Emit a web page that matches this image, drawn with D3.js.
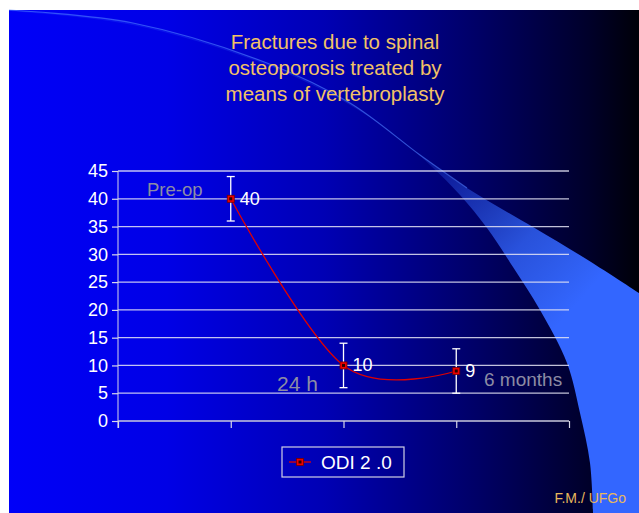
<!DOCTYPE html>
<html>
<head>
<meta charset="utf-8">
<script src="https://cdn.jsdelivr.net/npm/d3@7"></script>
<style>
  body { margin: 0; background: #fff; }
  svg { display: block; font-family: "Liberation Sans", Arial, sans-serif; }
</style>
</head>
<body>
<div id="chart"></div>
<script>
var w = 639,
    h = 513;

// data
var categories = ['Pre-op', '24 h', '6 months'];
var odiValues = [40, 10, 9];
var errorValues = [4, 4, 4];
var yTicks = [0, 5, 10, 15, 20, 25, 30, 35, 40, 45];
var seriesName = 'ODI 2 .0';
var titleLines = ['Fractures due to spinal', 'osteoporosis treated by', 'means of vertebroplasty'];

var svg = d3.select('#chart').append('svg').attr('width', w).attr('height', h);
var defs = svg.append('defs');

var bg = defs.append('linearGradient').attr('id', 'bg')
  .attr('x1', '0').attr('x2', '1').attr('y1', '0').attr('y2', '0');
bg.append('stop').attr('offset', '0').attr('stop-color', '#0000f8');
bg.append('stop').attr('offset', '0.25').attr('stop-color', '#0000e6');
bg.append('stop').attr('offset', '0.5').attr('stop-color', '#0000b4');
bg.append('stop').attr('offset', '0.75').attr('stop-color', '#000064');
bg.append('stop').attr('offset', '0.92').attr('stop-color', '#00002a');
bg.append('stop').attr('offset', '1').attr('stop-color', '#000008');

var sw = defs.append('linearGradient').attr('id', 'sw')
  .attr('gradientUnits', 'userSpaceOnUse')
  .attr('x1', 430).attr('y1', 165).attr('x2', 580).attr('y2', 300);
sw.append('stop').attr('offset', '0').attr('stop-color', '#3366ff').attr('stop-opacity', 0.2);
sw.append('stop').attr('offset', '0.6').attr('stop-color', '#3366ff').attr('stop-opacity', 0.8);
sw.append('stop').attr('offset', '1').attr('stop-color', '#3366ff').attr('stop-opacity', 1);

svg.append('rect').attr('x', 9).attr('y', 10).attr('width', w - 9).attr('height', h - 10)
  .attr('fill', 'url(#bg)');

// decorative swoosh
var curve = d3.line().curve(d3.curveCatmullRom);
var outer = [[9, 10], [133, 23], [267, 63], [350, 103], [420, 155], [467, 188], [533, 227], [583, 257], [639, 293]];
var inner = [[593, 513], [590, 463], [580, 413], [567, 363], [540, 310], [513, 267], [487, 228], [460, 195], [430, 165], [400, 139], [350, 105], [267, 65], [133, 25], [9, 11]];
svg.append('path')
  .attr('d', curve(outer) + 'L639,513L' + curve(inner).slice(1) + 'Z')
  .attr('fill', 'url(#sw)');
svg.append('path')
  .attr('d', curve(outer.slice(0, 6)))
  .attr('fill', 'none').attr('stroke', '#5080ff').attr('stroke-opacity', 0.6).attr('stroke-width', 1.2);

// title
svg.append('g').selectAll('text').data(titleLines).enter().append('text')
  .attr('x', 335).attr('y', function (d, i) { return 49 + i * 26; })
  .attr('text-anchor', 'middle').attr('font-size', 20.5).attr('fill', '#f2c266')
  .text(function (d) { return d; });

var x = d3.scaleLinear().domain([0, categories.length + 1]).range([118, 569]);
var y = d3.scaleLinear().domain([0, 45]).range([421, 171]);

// gridlines
svg.append('g').selectAll('line').data(yTicks.slice(1)).enter().append('line')
  .attr('x1', 118).attr('x2', 569)
  .attr('y1', function (d) { return y(d); }).attr('y2', function (d) { return y(d); })
  .attr('stroke', '#e4e4f4').attr('stroke-opacity', 0.85).attr('stroke-width', 1.3);

// y axis
var yAxis = svg.append('g').attr('transform', 'translate(118,0)')
  .call(d3.axisLeft(y).tickValues(yTicks).tickSize(6).tickPadding(4));
yAxis.select('.domain').attr('d', 'M0,' + y(45) + 'V' + (y(0) + 7)).attr('stroke', '#d8d8e8');
yAxis.selectAll('.tick line').attr('stroke', '#d8d8e8').attr('stroke-width', 1.2);
yAxis.selectAll('.tick text').attr('fill', '#fff').attr('font-size', 18)
  .attr('font-family', '"Liberation Sans", Arial, sans-serif');

// x axis
var xAxis = svg.append('g').attr('transform', 'translate(0,' + y(0) + ')')
  .call(d3.axisBottom(x).tickValues(d3.range(0, categories.length + 2)).tickSize(7).tickFormat(''));
xAxis.select('.domain').attr('d', 'M118,0H569').attr('stroke', '#c8c8dc').attr('stroke-width', 1.5);
xAxis.selectAll('.tick line').attr('stroke', '#d8d8e8').attr('stroke-width', 1.2);

var pts = odiValues.map(function (v, i) { return { i: i + 1, v: v, e: errorValues[i], c: categories[i] }; });

// error bars
var eb = svg.append('g').attr('stroke', '#fff').attr('stroke-width', 1.3);
pts.forEach(function (p) {
  var cx = x(p.i);
  eb.append('line').attr('x1', cx).attr('x2', cx).attr('y1', y(p.v + p.e)).attr('y2', y(p.v - p.e));
  eb.append('line').attr('x1', cx - 4).attr('x2', cx + 4).attr('y1', y(p.v + p.e)).attr('y2', y(p.v + p.e));
  eb.append('line').attr('x1', cx - 4).attr('x2', cx + 4).attr('y1', y(p.v - p.e)).attr('y2', y(p.v - p.e));
});

// smoothed line
var line = d3.line()
  .x(function (p) { return x(p.i); })
  .y(function (p) { return y(p.v); })
  .curve(d3.curveCardinal.tension(0));
svg.append('path').datum(pts).attr('d', line)
  .attr('fill', 'none').attr('stroke', '#e00000').attr('stroke-width', 1.3);

function marker(g, cx, cy) {
  g.append('rect').attr('x', cx - 3.5).attr('y', cy - 3.5).attr('width', 7).attr('height', 7)
    .attr('fill', '#ee0000').attr('stroke', '#700000').attr('stroke-width', 0.8);
  g.append('rect').attr('x', cx - 1.5).attr('y', cy - 1.5).attr('width', 3).attr('height', 3)
    .attr('fill', '#300000');
}
var mk = svg.append('g');
pts.forEach(function (p) { marker(mk, x(p.i), y(p.v)); });

// value labels
svg.append('g').selectAll('text').data(pts).enter().append('text')
  .attr('x', function (p) { return x(p.i) + 9; })
  .attr('y', function (p) { return y(p.v) + 6; })
  .attr('font-size', 18).attr('fill', '#fff')
  .text(function (p) { return p.v; });

// category labels
var catPos = [[147, 196, 18.5], [277, 391, 21], [484, 386, 19]];
svg.append('g').selectAll('text').data(categories).enter().append('text')
  .attr('x', function (d, i) { return catPos[i][0]; })
  .attr('y', function (d, i) { return catPos[i][1]; })
  .attr('font-size', function (d, i) { return catPos[i][2]; })
  .attr('fill', '#8c8ca4')
  .text(function (d) { return d; });

// legend
var lg = svg.append('g');
lg.append('rect').attr('x', 282).attr('y', 447).attr('width', 122).attr('height', 30)
  .attr('fill', 'none').attr('stroke', '#d0d0e4').attr('stroke-width', 1.2);
lg.append('line').attr('x1', 289).attr('x2', 311).attr('y1', 462).attr('y2', 462)
  .attr('stroke', '#e00000').attr('stroke-width', 1.3);
marker(lg, 300, 462);
lg.append('text').attr('x', 321).attr('y', 469).attr('font-size', 19).attr('fill', '#fff').text(seriesName);

// footer
svg.append('text').attr('x', 626).attr('y', 503).attr('text-anchor', 'end')
  .attr('font-size', 14).attr('fill', '#e8b85c').text('F.M./ UFGo');
</script>
</body>
</html>
